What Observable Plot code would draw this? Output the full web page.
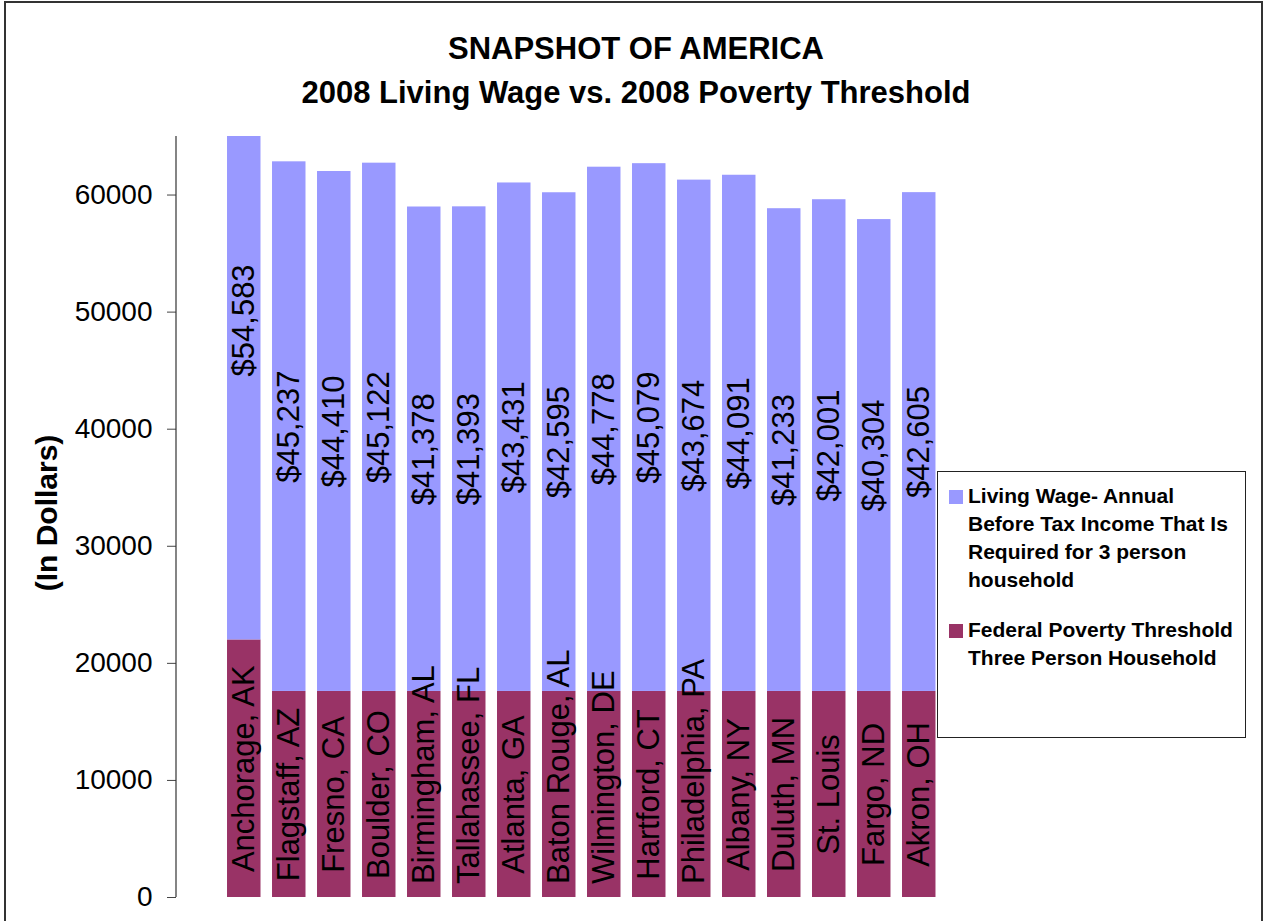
<!DOCTYPE html>
<html>
<head>
<meta charset="utf-8">
<script src="https://cdn.jsdelivr.net/npm/d3@7"></script>
<script src="https://cdn.jsdelivr.net/npm/@observablehq/plot@0.6"></script>
<style>
  html, body { margin: 0; padding: 0; width: 1265px; height: 921px; overflow: hidden; background: #fff; }
  body { font-family: "Liberation Sans", Arial, sans-serif; position: relative; }
  #frame { position: absolute; left: 4px; top: 1px; width: 1259px; height: 940px; border: 2px solid #333; box-sizing: border-box; }
  #title { position: absolute; left: 0; top: 27px; width: 1272px; text-align: center; font-weight: bold; font-size: 31px; line-height: 44px; color: #000; white-space: nowrap; }
  #ytitle { position: absolute; left: 47px; top: 513px; transform: translate(-50%, -50%) rotate(-90deg); font-weight: bold; font-size: 30px; white-space: nowrap; color: #000; }
  #chart { position: absolute; left: 0; top: 120px; }
  #legend { position: absolute; left: 937px; top: 471px; width: 309px; height: 267px; border: 1px solid #222; box-sizing: border-box; background: #fff; }
  .item { position: absolute; left: 0; }
  .sw { position: absolute; left: 11px; width: 14px; height: 14px; }
  .lt { position: absolute; left: 30px; top: 0; font-weight: bold; font-size: 21px; line-height: 28px; white-space: nowrap; color: #000; }
</style>
</head>
<body>
<div id="frame"></div>
<div id="title">SNAPSHOT OF AMERICA<br>2008 Living Wage vs. 2008 Poverty Threshold</div>
<div id="ytitle">(In Dollars)</div>
<div id="chart"></div>
<div id="legend"></div>
<script>
// ---- data ----
const cities = ["Anchorage, AK","Flagstaff, AZ","Fresno, CA","Boulder, CO","Birmingham, AL","Tallahassee, FL","Atlanta, GA","Baton Rouge, AL","Wilmington, DE","Hartford, CT","Philadelphia, PA","Albany, NY","Duluth, MN","St. Louis","Fargo, ND","Akron, OH"];
const livingWage = [54583,45237,44410,45122,41378,41393,43431,42595,44778,45079,43674,44091,41233,42001,40304,42605];
const povertyThreshold = [22000,17600,17600,17600,17600,17600,17600,17600,17600,17600,17600,17600,17600,17600,17600,17600];
const seriesNames = ["Federal Poverty Threshold Three Person Household", "Living Wage- Annual Before Tax Income That Is Required for 3 person household"];
const seriesColors = ["#993366", "#9999FF"];
const yTicks = [0,10000,20000,30000,40000,50000,60000];
const yMax = 65000;

// ---- tables ----
const table = cities.map((c, i) => ({city: c, pov: povertyThreshold[i], wage: livingWage[i]}));
const rows = [];
table.forEach(d => {
  rows.push({city: d.city, series: seriesNames[0], value: d.pov});
  rows.push({city: d.city, series: seriesNames[1], value: d.wage});
});
const fmt = d3.format(",");

const marginLeft = 176;
const plot = Plot.plot({
  width: 1265,
  height: 801,
  marginTop: 16,
  marginBottom: 24,
  marginLeft: marginLeft,
  marginRight: 318,
  style: {fontFamily: "'Liberation Sans', Arial, sans-serif", fontSize: "28px", background: "transparent", color: "#000"},
  x: {domain: cities, padding: 0.256, insetLeft: 39.5, round: false, axis: null},
  y: {domain: [0, yMax], axis: null},
  color: {domain: seriesNames, range: seriesColors},
  marks: [
    Plot.barY(rows, {x: "city", y: "value", fill: "series", clip: true}),
    Plot.text(table, {x: "city", y: d => d.pov / 2, text: "city", rotate: -90, fontSize: 31, fill: "#000"}),
    Plot.text(table, {x: "city", y: d => d.pov + d.wage / 2, text: d => "$" + fmt(d.wage), rotate: -90, fontSize: 31, fill: "#000"}),
    Plot.axisY({ticks: yTicks, tickFormat: d3.format("d"), tickSize: 9, tickPadding: 15, fontSize: 28, stroke: "#444", label: null})
  ]
});
document.getElementById("chart").appendChild(plot);

// vertical axis line drawn with the plot's own y scale
const ys = plot.scale("y");
d3.select(plot).append("line")
  .attr("x1", marginLeft).attr("x2", marginLeft)
  .attr("y1", ys.apply(0)).attr("y2", ys.apply(yMax))
  .attr("stroke", "#333").attr("stroke-width", 1.2);

// keep category labels inside the plot area (as the original chart does)
const textGroups = plot.querySelectorAll('g[aria-label="text"]');
if (textGroups.length) {
  const limit = 884;
  textGroups[0].querySelectorAll("text").forEach(t => {
    const r = t.getBoundingClientRect();
    if (r.bottom > limit) {
      const shift = r.bottom - limit;
      t.setAttribute("transform", `translate(0,${-shift}) ` + (t.getAttribute("transform") || ""));
    }
  });
}

// ---- legend ----
const legendLines = [
  ["Living Wage- Annual", "Before Tax Income That Is", "Required for 3 person", "household"],
  ["Federal Poverty Threshold", "Three Person Household"]
];
const legendColors = [seriesColors[1], seriesColors[0]];
const legendTops = [9.75, 143.75];
const leg = d3.select("#legend");
legendLines.forEach((lines, i) => {
  const it = leg.append("div").attr("class", "item").style("top", legendTops[i] + "px");
  it.append("div").attr("class", "sw").style("top", "8px").style("background", legendColors[i]);
  it.append("div").attr("class", "lt").html(lines.join("<br>"));
});
</script>
</body>
</html>
